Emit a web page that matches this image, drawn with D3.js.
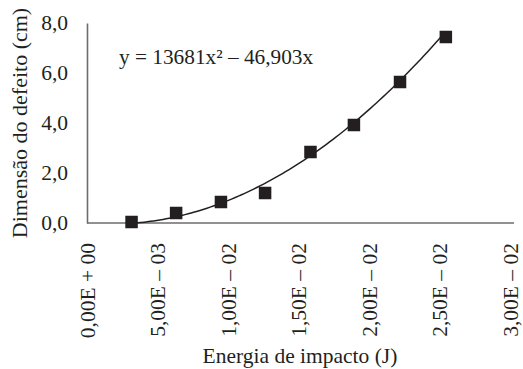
<!DOCTYPE html>
<html>
<head>
<meta charset="utf-8">
<script src="https://cdn.jsdelivr.net/npm/d3@7"></script>
<style>
  html, body { margin: 0; padding: 0; background: #fff; }
  svg { display: block; }
  svg text { font-family: "Liberation Serif", "Times New Roman", Times, serif; fill: #231f20; }
</style>
</head>
<body>
<svg id="chart" width="523" height="369"></svg>
<script>
// Impact energy (J) and resulting defect size (cm)
const energy = [0.00316, 0.00632, 0.00950, 0.01263, 0.01585, 0.01893, 0.02220, 0.02545];
const defect = [0.04, 0.40, 0.84, 1.20, 2.84, 3.92, 5.64, 7.44];

// Quadratic trendline y = a·x² + b·x
const trendCoef = [13681, -46.903];
const trendLabel = "y = 13681x\u00B2 \u2013 46,903x";

const xTicks = [0, 0.005, 0.01, 0.015, 0.02, 0.025, 0.03];
const xTickLabels = ["0,00E + 00", "5,00E \u2013 03", "1,00E \u2013 02", "1,50E \u2013 02", "2,00E \u2013 02", "2,50E \u2013 02", "3,00E \u2013 02"];
const yTicks = [0, 2, 4, 6, 8];
const yTickLabels = ["0,0", "2,0", "4,0", "6,0", "8,0"];

const xTitle = "Energia de impacto (J)";
const yTitle = "Dimensão do defeito (cm)";

const svg = d3.select("#chart");
const plotL = 87, plotR = 510, plotT = 23, plotB = 223;
const serif = "'Liberation Serif', 'Times New Roman', Times, serif";

const x = d3.scaleLinear().domain([0, 0.03]).range([plotL, plotR]);
const y = d3.scaleLinear().domain([0, 8]).range([plotB, plotT]);

// Axes (no tick marks, only the domain lines)
const xAxis = d3.axisBottom(x).tickValues(xTicks).tickSize(0)
  .tickFormat((d, i) => xTickLabels[i]);
const gx = svg.append("g").attr("transform", `translate(0,${plotB})`).call(xAxis)
  .attr("font-family", serif);
gx.select(".domain").attr("stroke", "#6d6d6d").attr("stroke-width", 1.6)
  .attr("d", `M${plotL},0H${plotR + 4}`);
gx.selectAll(".tick text")
  .attr("font-size", 21.5)
  .attr("fill", "#231f20")
  .attr("text-anchor", "end")
  .attr("transform", "rotate(-90)")
  .attr("x", -20)
  .attr("y", 0)
  .attr("dy", "0.33em");

const yAxis = d3.axisLeft(y).tickValues(yTicks).tickSize(0)
  .tickFormat((d, i) => yTickLabels[i]);
const gy = svg.append("g").attr("transform", `translate(${plotL},0)`).call(yAxis)
  .attr("font-family", serif);
gy.select(".domain").attr("stroke", "#6d6d6d").attr("stroke-width", 1.6);
gy.selectAll(".tick text")
  .attr("font-size", 21.5)
  .attr("fill", "#231f20")
  .attr("x", -19)
  .attr("dy", "0.3em");

svg.selectAll(".domain").attr("fill", "none");

// Trendline across the measured range
const xs = d3.range(0, 101).map(i => energy[0] + (energy[energy.length - 1] - energy[0]) * i / 100);
const line = d3.line()
  .x(d => x(d))
  .y(d => y(trendCoef[0] * d * d + trendCoef[1] * d));
svg.append("path")
  .datum(xs)
  .attr("d", line)
  .attr("fill", "none")
  .attr("stroke", "#231f20")
  .attr("stroke-width", 1.5);

// Data markers
const sz = 12.5;
svg.selectAll("rect.pt")
  .data(energy)
  .join("rect")
  .attr("class", "pt")
  .attr("x", d => x(d) - sz / 2)
  .attr("y", (d, i) => y(defect[i]) - sz / 2)
  .attr("width", sz)
  .attr("height", sz)
  .attr("fill", "#231f20");

// Trendline equation
svg.append("text")
  .attr("x", 119)
  .attr("y", 64)
  .attr("font-family", serif)
  .attr("font-size", 21.3)
  .text(trendLabel);

// Axis titles
svg.append("text")
  .attr("x", 300)
  .attr("y", 363)
  .attr("text-anchor", "middle")
  .attr("font-family", serif)
  .attr("font-size", 21.5)
  .text(xTitle);

svg.append("text")
  .attr("transform", `translate(27,${123}) rotate(-90)`)
  .attr("text-anchor", "middle")
  .attr("font-family", serif)
  .attr("font-size", 22)
  .text(yTitle);
</script>
</body>
</html>
